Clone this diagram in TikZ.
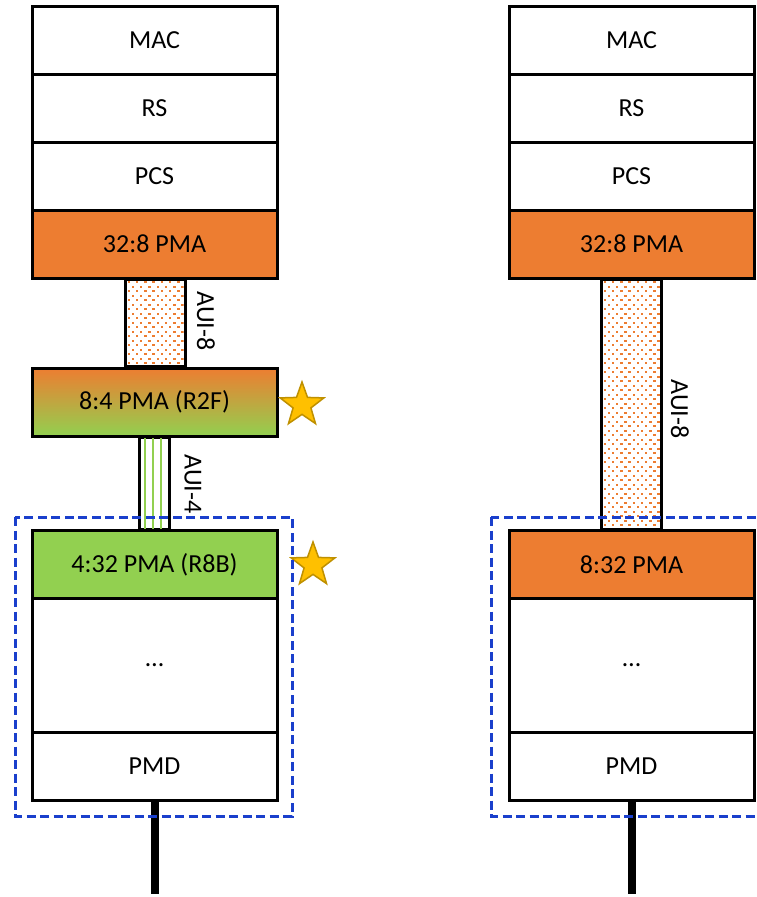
\documentclass[tikz,border=0pt]{standalone}
\usepackage{fontspec}
\setmainfont{Carlito}
\usetikzlibrary{shapes.geometric,calc}
\definecolor{pmaorange}{HTML}{ED7D31}
\definecolor{pmagreen}{HTML}{92D050}
\definecolor{stargold}{HTML}{FFC000}
\definecolor{staredge}{HTML}{BF9000}
\definecolor{dashblue}{HTML}{1A3FCC}
\pgfdeclarelayer{bg}
\pgfsetlayers{bg,main}
\begin{document}
\begin{tikzpicture}[x=1pt,y=-1pt,
  layer/.style={draw=black, line width=3pt, minimum width=245pt, minimum height=68pt, inner sep=0pt, font=\fontsize{26}{30}\selectfont, fill=white},
  tall/.style={layer, minimum height=134pt},
  orangebox/.style={layer, fill=pmaorange},
  greenbox/.style={layer, fill=pmagreen},
  gradbox/.style={layer, top color=pmaorange, bottom color=pmagreen},
  auicol/.style={draw=black, line width=3pt, fill=white},
  auilabel/.style={rotate=-90, font=\fontsize{26}{30}\selectfont, inner sep=0pt},
  staricon/.style={star, star points=5, star point ratio=2.45, minimum size=46pt, inner sep=0pt, fill=stargold, draw=staredge, line width=1.5pt},
  fiber/.style={line width=8pt, draw=black},
  groupbox/.style={draw=dashblue, line width=3pt, dash pattern=on 9pt off 4.5pt},
  lane/.style={draw=pmagreen, line width=1.6pt}
]
\useasboundingbox (0,0) rectangle (757,897);
\clip (0,0) rectangle (757,897);

% ---------- left stack ----------
\node[layer] (macL) at (154.5,40) {MAC};
\node[layer] (rsL) at (154.5,108) {RS};
\node[layer] (pcsL) at (154.5,176) {PCS};
\node[orangebox] (pmaL) at (154.5,244) {32:8 PMA};
\node[gradbox] (r2f) at (154.5,402) {8:4 PMA (R2F)};
\node[greenbox] (r8b) at (154.5,564.5) {4:32 PMA (R8B)};
\node[tall] (dotsL) at (154.5,665) {…};
\node[layer] (pmdL) at (154.5,766) {PMD};

% ---------- right stack ----------
\node[layer] (macR) at (631.5,40) {MAC};
\node[layer] (rsR) at (631.5,108) {RS};
\node[layer] (pcsR) at (631.5,176) {PCS};
\node[orangebox] (pmaR) at (631.5,244) {32:8 PMA};
\node[orangebox] (pma832) at (631.5,564.5) {8:32 PMA};
\node[tall] (dotsR) at (631.5,665) {…};
\node[layer] (pmdR) at (631.5,766) {PMD};

% ---------- AUI columns ----------
\begin{pgfonlayer}{bg}
  % left AUI-8
  \draw[auicol] ($(pmaL.south)+(-29.5,0)$) rectangle ($(r2f.north)+(30.5,0)$);
  \begin{scope}
    \clip ($(pmaL.south)+(-28,0)$) rectangle ($(r2f.north)+(29,0)$);
    \foreach \j in {0,...,20} {
      \foreach \i in {0,...,7} {
        \fill[pmaorange] ({127.5+\i*8.3+mod(\j,2)*4.15},{281+\j*4.5}) rectangle +(2.4,2.4);
      }
    }
  \end{scope}
  % left AUI-4
  \draw[auicol] ($(r2f.south)+(-15.5,0)$) rectangle ($(r8b.north)+(14.5,0)$);
  \draw[lane] ($(r2f.south)+(-9.5,0)$) -- ($(r8b.north)+(-9.5,0)$);
  \draw[lane] ($(r2f.south)+(-1.5,0)$) -- ($(r8b.north)+(-1.5,0)$);
  \draw[lane] ($(r2f.south)+(6.5,0)$) -- ($(r8b.north)+(6.5,0)$);
  % right AUI-8
  \draw[auicol] ($(pmaR.south)+(-30.5,0)$) rectangle ($(pma832.north)+(30,0)$);
  \begin{scope}
    \clip ($(pmaR.south)+(-29,0)$) rectangle ($(pma832.north)+(28.5,0)$);
    \foreach \j in {0,...,56} {
      \foreach \i in {0,...,7} {
        \fill[pmaorange] ({603.5+\i*8.3+mod(\j,2)*4.15},{281+\j*4.5}) rectangle +(2.4,2.4);
      }
    }
  \end{scope}
\end{pgfonlayer}

% ---------- labels ----------
\node[auilabel] (lblL8) at (206,321) {AUI-8};
\node[auilabel] (lblL4) at (193,484) {AUI-4};
\node[auilabel] (lblR8) at (680,409) {AUI-8};

% ---------- stars ----------
\node[staricon] (star1) at (302,405) {};
\node[staricon] (star2) at (313,565) {};

% ---------- fibers ----------
\coordinate (endL) at (155,894);
\coordinate (endR) at (631.5,894);
\draw[fiber] (pmdL.south) -- (pmdL.south |- endL);
\draw[fiber] (pmdR.south) -- (pmdR.south |- endR);

% ---------- dashed group boxes ----------
\draw[groupbox] (15,517) rectangle (292,816);
\draw[groupbox] (491,517) rectangle (790,816);
\end{tikzpicture}
\end{document}
